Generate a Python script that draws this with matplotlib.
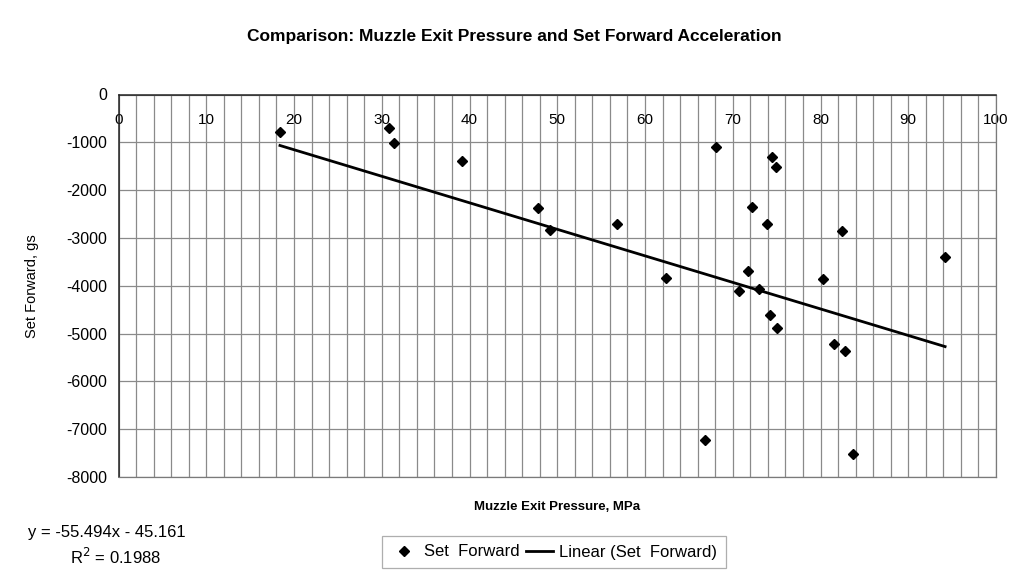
import numpy as np
import matplotlib
matplotlib.use('Agg')
import matplotlib.pyplot as plt
from matplotlib.ticker import MultipleLocator
from matplotlib.lines import Line2D

plt.rcParams['font.family'] = ['Liberation Sans', 'DejaVu Sans']
plt.rcParams['axes.unicode_minus'] = False

# Data
pressure = [18.4, 30.8, 31.4, 39.1, 47.8, 49.2, 56.8, 62.4, 66.8, 68.1,
            70.7, 71.7, 72.2, 73.0, 73.9, 74.2, 74.5, 74.9, 75.0, 80.3,
            81.5, 82.5, 82.8, 83.7, 94.2]
set_forward = [-780, -710, -1010, -1390, -2380, -2840, -2716, -3845, -7228, -1090,
               -4111, -3692, -2347, -4076, -2716, -4613, -1314, -1510, -4891, -3866,
               -5226, -2862, -5366, -7527, -3393]
slope = -55.494
intercept = -45.161
r_squared = 0.1988
x_ticks = list(range(0, 101, 10))
y_ticks = list(range(-8000, 1, 1000))

W, H = 1017, 573
fig = plt.figure(figsize=(W / 100, H / 100), dpi=100)
left, right, top, bottom = 118.5, 996, 94.5, 477
ax = fig.add_axes([left / W, 1 - bottom / H, (right - left) / W, (bottom - top) / H])

# scatter
ax.plot(pressure, set_forward, linestyle='none', marker='D', markersize=5.5,
        color='black', label='Set  Forward', zorder=4)

# linear trendline
xs = np.array([min(pressure), max(pressure)])
ax.plot(xs, slope * xs + intercept, color='black', lw=2.0,
        label='Linear (Set  Forward)', zorder=3)

ax.set_xlim(0, 100)
ax.set_ylim(-8000, 0)
ax.set_xticks(x_ticks)
ax.set_xticklabels([str(v) for v in x_ticks])
ax.xaxis.set_minor_locator(MultipleLocator(2))
ax.set_yticks(y_ticks)
ax.set_yticklabels([str(v) for v in y_ticks])

ax.tick_params(axis='x', which='both', top=False, bottom=False,
               labeltop=True, labelbottom=False, length=0, pad=-23.5, labelsize=11)
ax.tick_params(axis='y', which='both', length=0, pad=8, labelsize=11.5)

ax.grid(True, which='major', axis='y', color='#8a8a8a', lw=0.9)
ax.grid(True, which='both', axis='x', color='#8a8a8a', lw=0.9)
ax.set_axisbelow(True)

for s in ['top', 'left']:
    ax.spines[s].set_color('#222222')
    ax.spines[s].set_linewidth(1.1)
for s in ['right', 'bottom']:
    ax.spines[s].set_color('#7a7a7a')
    ax.spines[s].set_linewidth(0.9)

ax.set_ylabel('Set Forward, gs', fontsize=10.5)
ax.yaxis.set_label_coords((39 - left) / (right - left), 0.5)
ax.set_xlabel('Muzzle Exit Pressure, MPa', fontsize=9.5, fontweight='bold')
ax.xaxis.label.set_va('center')
ax.xaxis.set_label_coords(0.5, -(507 - bottom) / (bottom - top))

fig.text(514 / W, 1 - 36 / H,
         'Comparison: Muzzle Exit Pressure and Set Forward Acceleration',
         ha='center', va='center', fontsize=12.5, fontweight='bold')

fig.text(28 / W, 1 - 533 / H, f'y = {slope}x - {abs(intercept)}',
         ha='left', va='center', fontsize=12)
fig.text(70 / W, 1 - 557 / H, f'R$^2$ = {r_squared}',
         ha='left', va='center', fontsize=12)

handles = [Line2D([], [], linestyle='none', marker='D', markersize=5, color='black'),
           Line2D([], [], color='black', lw=2.0)]
leg = fig.legend(handles, ['Set  Forward', 'Linear (Set  Forward)'],
                 loc='center', bbox_to_anchor=(554 / W, 1 - 552 / H), ncol=2,
                 fontsize=12, frameon=True, fancybox=False, edgecolor='#9a9a9a',
                 handlelength=1.6, handletextpad=0.4, columnspacing=0.4,
                 borderpad=0.5)
leg.get_frame().set_linewidth(0.9)

fig.savefig('out.png', dpi=100, facecolor='white')
